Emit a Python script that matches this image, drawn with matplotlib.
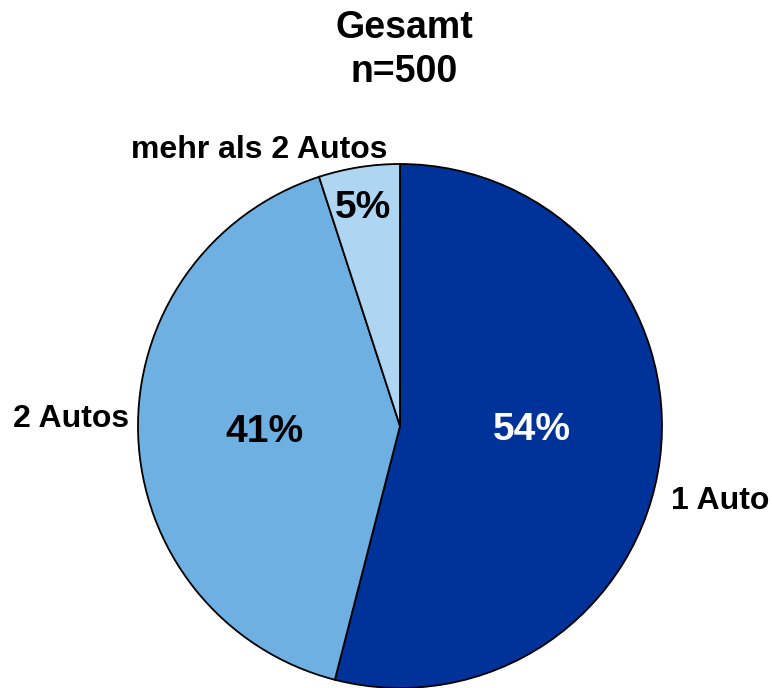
import matplotlib
matplotlib.use("Agg")
import matplotlib.pyplot as plt

# Daten
kategorien = ["1 Auto", "2 Autos", "mehr als 2 Autos"]
anteile = [54, 41, 5]
farben = ["#003399", "#6DB0E1", "#AED5F1"]
pct_farben = ["white", "black", "black"]

plt.rcParams['font.family'] = ['Liberation Sans', 'DejaVu Sans']

fig = plt.figure(figsize=(7.72, 6.88), dpi=100)
ax = fig.add_axes([0, 0, 1, 1])

wedges, _ = ax.pie(anteile, colors=farben, startangle=90, counterclock=False,
                   radius=1.0, wedgeprops=dict(edgecolor='black', linewidth=1.3))

# Skala: 262 px pro Einheit, Mittelpunkt bei (400, 426) px
ax.set_xlim(-400 / 262, 372 / 262)
ax.set_ylim(-262 / 262, 426 / 262)
ax.set_aspect('equal', adjustable='datalim')
ax.axis('off')

# Prozentwerte innerhalb der Segmente (Grundlinie)
pct_pos = [(0.504, -0.053), (-0.519, -0.061), (-0.141, 0.794)]
for val, (x, y), c in zip(anteile, pct_pos, pct_farben):
    ax.text(x, y, f"{val}%", ha='center', va='baseline',
            fontsize=28, fontweight='bold', color=c)

# Kategorienbeschriftungen außerhalb
label_pos = [(1.221, -0.317), (-1.256, -0.004), (-0.536, 1.023)]
for name, (x, y) in zip(kategorien, label_pos):
    ax.text(x, y, name, ha='center', va='baseline', fontsize=23, fontweight='bold')

fig.text(404 / 772, 1 - 38 / 688, "Gesamt", ha='center', va='baseline',
         fontsize=27, fontweight='bold')
fig.text(404 / 772, 1 - 82 / 688, "n=500", ha='center', va='baseline',
         fontsize=27, fontweight='bold')

fig.savefig("out.png", dpi=100)
